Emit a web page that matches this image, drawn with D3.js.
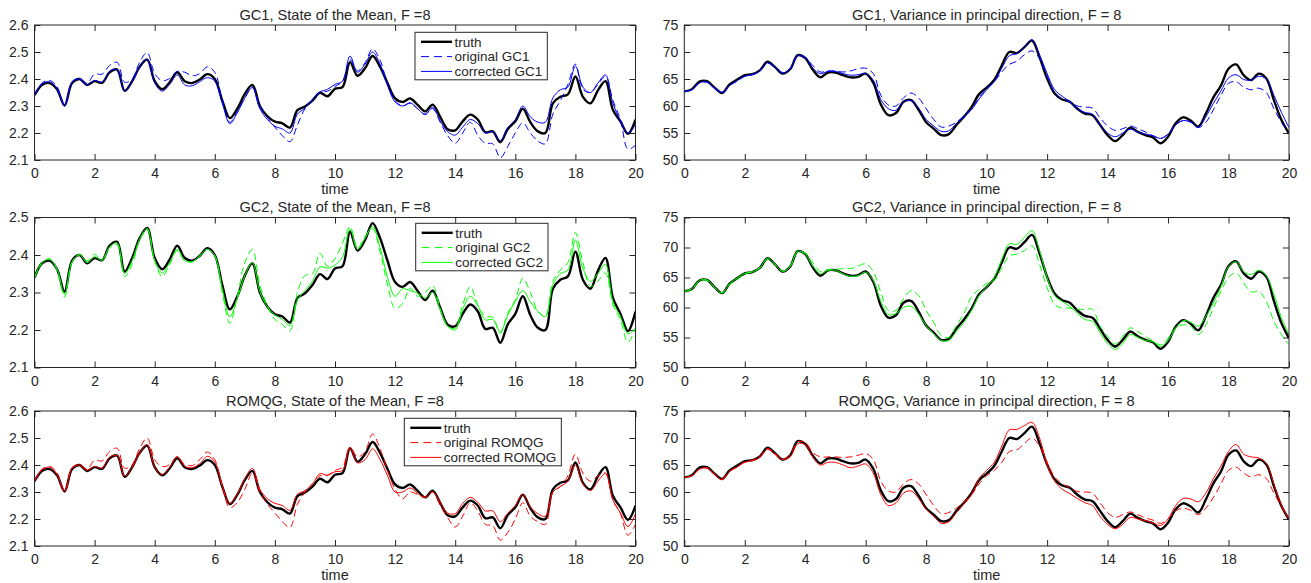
<!DOCTYPE html>
<html>
<head>
<meta charset="utf-8">
<script src="https://cdn.jsdelivr.net/npm/d3@7"></script>
<style>
  body { margin: 0; background: #fff; }
  svg { font-family: "Liberation Sans", Arial, sans-serif; }
</style>
</head>
<body>
<div id="chart"></div>
<script>
// time grid (step 0.25)
const time = [0,0.25,0.5,0.75,1,1.25,1.5,1.75,2,2.25,2.5,2.75,3,3.25,3.5,3.75,4,4.25,4.5,4.75,
  5,5.25,5.5,5.75,6,6.25,6.5,6.75,7,7.25,7.5,7.75,8,8.25,8.5,8.75,9,9.25,9.5,9.75,
  10,10.25,10.5,10.75,11,11.25,11.5,11.75,12,12.25,12.5,12.75,13,13.25,13.5,13.75,14,14.25,14.5,14.75,
  15,15.25,15.5,15.75,16,16.25,16.5,16.75,17,17.25,17.5,17.75,18,18.25,18.5,18.75,19,19.25,19.5,19.75,20];

// state of the mean
const truthMean = [2.340,2.378,2.385,2.362,2.302,2.385,2.400,2.378,2.392,2.386,2.425,2.435,2.356,2.392,2.445,2.472,2.392,2.362,2.388,2.425,
  2.392,2.385,2.398,2.418,2.400,2.320,2.255,2.290,2.345,2.378,2.300,2.262,2.242,2.236,2.220,2.285,2.298,2.320,2.349,2.336,
  2.364,2.370,2.462,2.412,2.440,2.485,2.445,2.384,2.328,2.315,2.328,2.304,2.280,2.305,2.260,2.214,2.210,2.243,2.268,2.250,
  2.203,2.206,2.166,2.215,2.243,2.290,2.240,2.206,2.200,2.310,2.334,2.343,2.409,2.334,2.310,2.358,2.392,2.285,2.243,2.197,2.249];
const gc1OrigMean = [2.340,2.385,2.395,2.372,2.302,2.390,2.402,2.385,2.418,2.418,2.450,2.462,2.388,2.400,2.462,2.498,2.420,2.394,2.402,2.428,
  2.425,2.412,2.420,2.445,2.425,2.320,2.240,2.280,2.330,2.370,2.300,2.258,2.222,2.190,2.168,2.230,2.290,2.322,2.350,2.355,
  2.372,2.392,2.472,2.430,2.460,2.512,2.470,2.380,2.320,2.300,2.310,2.290,2.270,2.290,2.240,2.190,2.162,2.200,2.240,2.192,
  2.162,2.160,2.108,2.150,2.200,2.238,2.200,2.170,2.160,2.270,2.320,2.380,2.455,2.362,2.350,2.380,2.410,2.320,2.250,2.140,2.155];
const gc1CorrMean = [2.340,2.382,2.390,2.365,2.300,2.388,2.400,2.378,2.395,2.388,2.428,2.435,2.355,2.392,2.445,2.472,2.385,2.355,2.380,2.415,
  2.378,2.375,2.390,2.405,2.392,2.310,2.235,2.275,2.330,2.368,2.290,2.250,2.225,2.215,2.200,2.270,2.292,2.325,2.352,2.362,
  2.380,2.392,2.485,2.425,2.455,2.500,2.455,2.375,2.315,2.300,2.312,2.290,2.268,2.295,2.245,2.205,2.192,2.222,2.250,2.235,
  2.200,2.205,2.172,2.220,2.250,2.300,2.260,2.240,2.240,2.330,2.360,2.370,2.448,2.370,2.350,2.385,2.415,2.310,2.245,2.200,2.230];
const gc2OrigMean = [2.340,2.378,2.390,2.360,2.288,2.380,2.402,2.385,2.402,2.388,2.420,2.428,2.342,2.375,2.440,2.470,2.385,2.342,2.375,2.412,
  2.385,2.382,2.398,2.415,2.398,2.300,2.218,2.290,2.380,2.415,2.320,2.265,2.228,2.215,2.198,2.300,2.345,2.350,2.405,2.370,
  2.391,2.432,2.476,2.418,2.450,2.470,2.409,2.320,2.258,2.270,2.312,2.290,2.300,2.318,2.258,2.210,2.205,2.267,2.316,2.267,
  2.236,2.234,2.191,2.245,2.280,2.338,2.300,2.250,2.236,2.330,2.360,2.380,2.460,2.380,2.316,2.330,2.352,2.267,2.227,2.167,2.205];
const gc2CorrMean = [2.340,2.380,2.388,2.362,2.295,2.382,2.400,2.380,2.395,2.386,2.422,2.432,2.350,2.385,2.442,2.470,2.385,2.352,2.380,2.415,
  2.385,2.382,2.398,2.415,2.398,2.310,2.235,2.285,2.345,2.380,2.302,2.262,2.240,2.228,2.212,2.280,2.305,2.330,2.368,2.365,
  2.373,2.395,2.470,2.415,2.445,2.476,2.420,2.340,2.290,2.310,2.305,2.298,2.285,2.300,2.255,2.210,2.200,2.255,2.290,2.265,
  2.227,2.228,2.195,2.240,2.276,2.305,2.275,2.250,2.236,2.320,2.350,2.360,2.440,2.364,2.330,2.350,2.375,2.275,2.236,2.190,2.205];
const romOrigMean = [2.340,2.385,2.395,2.372,2.302,2.390,2.402,2.385,2.418,2.415,2.450,2.462,2.388,2.400,2.462,2.500,2.420,2.394,2.402,2.430,
  2.402,2.398,2.420,2.448,2.420,2.320,2.242,2.262,2.310,2.370,2.300,2.255,2.222,2.190,2.168,2.255,2.300,2.330,2.360,2.362,
  2.380,2.392,2.465,2.430,2.450,2.515,2.460,2.380,2.310,2.275,2.300,2.290,2.280,2.300,2.250,2.205,2.170,2.210,2.260,2.230,
  2.180,2.175,2.122,2.150,2.200,2.260,2.210,2.190,2.180,2.300,2.320,2.360,2.440,2.370,2.340,2.360,2.370,2.270,2.220,2.140,2.180];
const romCorrMean = [2.340,2.382,2.392,2.365,2.302,2.388,2.400,2.380,2.395,2.388,2.428,2.435,2.358,2.392,2.445,2.475,2.392,2.365,2.392,2.432,
  2.395,2.390,2.405,2.432,2.412,2.322,2.258,2.292,2.350,2.388,2.310,2.275,2.258,2.250,2.232,2.292,2.305,2.330,2.368,2.362,
  2.375,2.380,2.465,2.408,2.420,2.460,2.420,2.360,2.300,2.300,2.315,2.295,2.280,2.300,2.262,2.222,2.220,2.258,2.280,2.262,
  2.230,2.230,2.190,2.222,2.250,2.290,2.245,2.220,2.210,2.300,2.320,2.340,2.400,2.330,2.305,2.340,2.368,2.270,2.222,2.172,2.220];

// variance in principal direction
const truthVar = [62.7,63.1,64.5,64.6,63.4,62.4,64.0,64.9,65.7,65.9,66.6,68.2,67.2,66.0,66.8,69.4,68.9,66.7,65.3,66.2,
  66.2,65.7,65.3,65.4,66.0,64.3,60.3,58.3,58.7,60.8,61.1,59.3,57.0,55.8,54.6,54.8,56.5,58.0,59.8,62.2,
  63.4,64.8,67.5,70.0,69.8,70.9,72.1,69.0,65.1,62.3,61.2,60.8,59.5,58.6,58.3,56.5,54.6,53.5,54.6,56.0,
  55.2,54.6,54.2,53.1,54.3,56.8,57.9,57.3,56.2,58.6,61.6,63.8,66.9,67.7,65.7,64.8,66.0,65.1,61.1,57.4,54.9];
const gc1OrigVar = [62.7,63.0,64.2,64.4,63.4,62.6,63.8,64.6,65.5,65.8,66.5,67.9,67.2,66.2,66.9,69.2,69.0,67.5,66.3,66.5,
  66.5,66.3,66.5,66.9,67.0,66.0,62.0,60.2,60.0,61.5,62.4,61.5,59.5,57.5,56.1,56.3,57.0,58.2,59.5,61.5,
  63.3,64.5,66.3,67.7,68.3,69.5,70.2,68.8,65.5,62.5,61.2,60.8,60.0,59.8,59.6,57.8,56.3,55.5,55.8,56.3,
  55.8,55.2,54.5,54.0,54.8,56.5,57.3,57.0,56.0,57.0,59.3,62.0,64.2,64.5,63.5,63.0,63.3,62.5,59.5,57.0,55.0];
const gc1CorrVar = [62.7,63.0,64.3,64.4,63.3,62.5,63.8,64.7,65.5,65.8,66.5,68.0,67.2,66.1,66.9,69.3,69.0,67.0,66.0,66.4,
  66.4,66.0,65.7,65.8,66.0,64.8,61.2,59.5,59.2,60.8,61.0,59.6,57.5,56.3,55.3,55.4,56.8,58.0,59.3,61.3,
  63.0,64.5,67.0,69.3,69.7,70.9,72.3,69.5,66.0,63.0,61.8,60.8,59.5,58.8,58.5,56.5,55.0,54.3,55.0,55.7,
  55.2,54.8,54.5,54.0,54.8,56.5,57.3,57.0,56.0,58.0,60.5,62.8,65.2,65.8,64.9,64.8,65.5,65.0,62.0,58.8,56.0];
const gc2OrigVar = [62.7,63.0,64.4,64.5,63.3,62.5,63.8,64.6,65.6,66.0,66.6,68.1,67.2,66.1,66.9,69.3,69.1,67.5,66.0,66.3,
  66.3,66.5,66.5,66.9,67.3,66.0,62.5,59.5,59.5,61.5,62.8,62.0,59.5,57.5,55.3,55.0,57.0,59.0,61.8,63.0,
  64.0,64.5,66.6,68.6,68.9,69.5,70.3,67.2,63.3,60.5,59.9,59.9,59.7,59.7,59.7,56.9,55.2,53.9,55.2,56.6,
  56.0,55.2,54.4,53.8,54.9,56.6,57.1,56.9,55.5,57.1,59.9,62.7,65.0,65.8,64.1,62.6,62.7,61.0,57.7,55.5,53.8];
const gc2CorrVar = [62.7,63.1,64.5,64.6,63.4,62.4,64.0,64.9,65.7,65.9,66.6,68.2,67.2,66.0,66.8,69.4,68.9,66.9,65.6,66.2,
  66.2,65.6,65.2,65.3,65.9,64.5,61.0,58.8,59.0,60.0,60.2,58.9,57.0,55.6,54.5,54.5,56.0,57.5,59.5,62.0,
  63.4,65.0,68.0,70.6,70.5,71.7,72.8,69.5,65.0,62.0,61.0,60.2,59.0,58.0,57.7,55.8,54.0,53.0,54.0,55.5,
  55.0,54.5,54.3,53.5,54.5,56.5,57.8,57.5,56.9,58.5,60.8,63.5,66.8,67.6,66.0,65.5,66.2,65.3,62.2,58.3,55.5];
const romOrigVar = [62.7,63.0,64.3,64.5,63.4,62.5,63.9,64.7,65.6,65.9,66.6,68.1,67.2,66.1,66.9,69.3,69.2,67.3,66.5,66.5,
  66.5,66.4,66.5,66.8,67.1,66.0,62.0,60.2,60.0,61.5,62.3,61.5,59.5,57.5,56.0,56.2,57.0,58.2,59.5,61.5,
  63.0,64.0,65.5,67.5,67.8,69.0,70.0,68.5,65.5,62.8,61.5,60.8,60.1,60.0,59.8,58.0,56.2,55.3,55.8,56.3,
  55.8,55.2,54.8,54.2,55.0,56.5,57.0,56.6,55.8,57.0,59.0,61.5,64.0,64.6,63.5,62.8,63.2,62.5,59.8,57.3,55.0];
const romCorrVar = [62.7,63.0,64.2,64.4,63.3,62.3,63.8,64.6,65.5,65.8,66.4,67.9,67.0,66.0,66.5,68.9,68.8,66.5,65.0,65.5,
  65.5,65.0,64.5,64.8,65.2,63.5,59.5,57.5,58.0,59.8,60.2,58.8,56.8,55.5,54.2,54.5,56.2,57.8,59.5,62.5,
  64.0,65.5,68.5,71.5,71.6,72.3,72.9,70.0,65.0,62.0,60.5,59.7,58.8,58.0,57.5,55.5,54.0,53.2,54.0,55.3,
  55.0,54.7,54.3,53.8,55.0,57.5,58.8,58.7,58.2,59.8,62.5,64.8,67.5,68.8,67.0,66.5,66.3,65.3,61.5,57.5,55.0];

// tick labels
const timeTicks = [0, 2, 4, 6, 8, 10, 12, 14, 16, 18, 20];
const meanTicks6 = [2.1, 2.2, 2.3, 2.4, 2.5, 2.6];
const meanTicks5 = [2.1, 2.2, 2.3, 2.4, 2.5];
const varTicks = [50, 55, 60, 65, 70, 75];

const axisColor = "#262626";
const colBlue = "#0000ff", colGreen = "#00ff00", colRed = "#ff0000";

const svg = d3.select("#chart").append("svg")
  .attr("width", 1311)
  .attr("height", 583);

let clipId = 0;

function drawPanel(p) {
  const x = d3.scaleLinear().domain([0, 20]).range([p.left, p.right]);
  const y = d3.scaleLinear().domain(p.yDomain).range([p.bottom, p.top]);
  const g = svg.append("g");
  const tick = 6;

  // bottom axis with labels, mirrored ticks on the other three sides
  g.append("g")
    .attr("transform", `translate(0,${p.bottom})`)
    .call(d3.axisBottom(x).tickValues(timeTicks).tickSizeInner(-tick).tickSizeOuter(0).tickPadding(8.5))
    .call(s => s.select(".domain").remove());
  g.append("g")
    .attr("transform", `translate(0,${p.top})`)
    .call(d3.axisTop(x).tickValues(timeTicks).tickSizeInner(-tick).tickSizeOuter(0).tickFormat(""))
    .call(s => s.select(".domain").remove());
  g.append("g")
    .attr("transform", `translate(${p.left},0)`)
    .call(d3.axisLeft(y).tickValues(p.yTicks).tickSizeInner(-tick).tickSizeOuter(0).tickPadding(6).tickFormat(p.fmt))
    .call(s => s.select(".domain").remove());
  g.append("g")
    .attr("transform", `translate(${p.right},0)`)
    .call(d3.axisRight(y).tickValues(p.yTicks).tickSizeInner(-tick).tickSizeOuter(0).tickFormat(""))
    .call(s => s.select(".domain").remove());

  g.selectAll(".tick line").attr("stroke", axisColor);
  g.selectAll(".tick text").attr("fill", axisColor).style("font-size", "14px")
    .style("font-family", "'Liberation Sans', Arial, sans-serif");

  // lines
  const id = "clip" + (clipId++);
  svg.append("clipPath").attr("id", id).append("rect")
    .attr("x", p.left).attr("y", p.top)
    .attr("width", p.right - p.left).attr("height", p.bottom - p.top);

  const line = d3.line()
    .x((d, i) => x(time[i]))
    .y(d => y(d))
    .curve(d3.curveCatmullRom.alpha(0.5));

  const lines = g.append("g").attr("clip-path", `url(#${id})`);
  p.series.forEach(s => {
    lines.append("path")
      .datum(s.values)
      .attr("fill", "none")
      .attr("stroke", s.color)
      .attr("stroke-width", s.width)
      .attr("stroke-dasharray", s.dash || null)
      .attr("stroke-linejoin", "round")
      .attr("d", line);
  });

  // box
  g.append("rect")
    .attr("x", p.left).attr("y", p.top)
    .attr("width", p.right - p.left).attr("height", p.bottom - p.top)
    .attr("fill", "none").attr("stroke", axisColor).attr("stroke-width", 1);

  // title
  g.append("text")
    .attr("x", (p.left + p.right) / 2)
    .attr("y", p.top - 5.5)
    .attr("text-anchor", "middle")
    .attr("fill", axisColor)
    .style("font-size", "14.6px")
    .text(p.title);

  if (p.xlabel) {
    g.append("text")
      .attr("x", (p.left + p.right) / 2)
      .attr("y", p.bottom + 33.5)
      .attr("text-anchor", "middle")
      .attr("fill", axisColor)
      .style("font-size", "14.5px")
      .text("time");
  }

  // legend
  if (p.legend) {
    const lg = g.append("g").attr("transform", `translate(${p.legend.x},${p.legend.y})`);
    const box = lg.append("rect")
      .attr("fill", "#fff").attr("stroke", axisColor).attr("stroke-width", 1);
    let maxW = 0;
    p.series.forEach((s, i) => {
      const cy = 9.5 + i * 14.8;
      lg.append("line")
        .attr("x1", 6).attr("x2", 37).attr("y1", cy).attr("y2", cy)
        .attr("stroke", s.color).attr("stroke-width", s.width)
        .attr("stroke-dasharray", s.dash ? "8,5" : null);
      const t = lg.append("text")
        .attr("x", 39.5).attr("y", cy).attr("dy", "0.35em")
        .attr("fill", axisColor).style("font-size", "13.5px")
        .text(s.name);
      maxW = Math.max(maxW, t.node().getComputedTextLength());
    });
    box.attr("width", 39.5 + maxW + 5).attr("height", 47.5);
  }
}

const leftX = [34.5, 635.5], rightX = [684.3, 1289];
const rows = [[25, 160], [217.5, 367.5], [411, 546]];
const f1 = d3.format(".1f"), f0 = d3.format("d");

const models = [
  { name: "GC1", color: colBlue, om: gc1OrigMean, cm: gc1CorrMean, ov: gc1OrigVar, cv: gc1CorrVar,
    yMean: [2.1, 2.6], ticks: meanTicks6, xlabel: true, lgx: 415, lgy: 32.3 },
  { name: "GC2", color: colGreen, om: gc2OrigMean, cm: gc2CorrMean, ov: gc2OrigVar, cv: gc2CorrVar,
    yMean: [2.1, 2.5], ticks: meanTicks5, xlabel: false, lgx: 415.7, lgy: 223.3 },
  { name: "ROMQG", color: colRed, om: romOrigMean, cm: romCorrMean, ov: romOrigVar, cv: romCorrVar,
    yMean: [2.1, 2.6], ticks: meanTicks6, xlabel: true, lgx: 404.3, lgy: 418.3 }
];

models.forEach((m, r) => {
  drawPanel({
    left: leftX[0], right: leftX[1], top: rows[r][0], bottom: rows[r][1],
    yDomain: m.yMean, yTicks: m.ticks, fmt: f1,
    title: `${m.name}, State of the Mean, F =8`,
    xlabel: m.xlabel,
    legend: { x: m.lgx, y: m.lgy },
    series: [
      { name: "truth", values: truthMean, color: "#000", width: 2.4 },
      { name: `original ${m.name}`, values: m.om, color: m.color, width: 1, dash: "7,4" },
      { name: `corrected ${m.name}`, values: m.cm, color: m.color, width: 1 }
    ]
  });
  drawPanel({
    left: rightX[0], right: rightX[1], top: rows[r][0], bottom: rows[r][1],
    yDomain: [50, 75], yTicks: varTicks, fmt: f0,
    title: `${m.name}, Variance in principal direction, F = 8`,
    xlabel: m.xlabel,
    series: [
      { name: "truth", values: truthVar, color: "#000", width: 2.4 },
      { name: `original ${m.name}`, values: m.ov, color: m.color, width: 1, dash: "7,4" },
      { name: `corrected ${m.name}`, values: m.cv, color: m.color, width: 1 }
    ]
  });
});
</script>
</body>
</html>
